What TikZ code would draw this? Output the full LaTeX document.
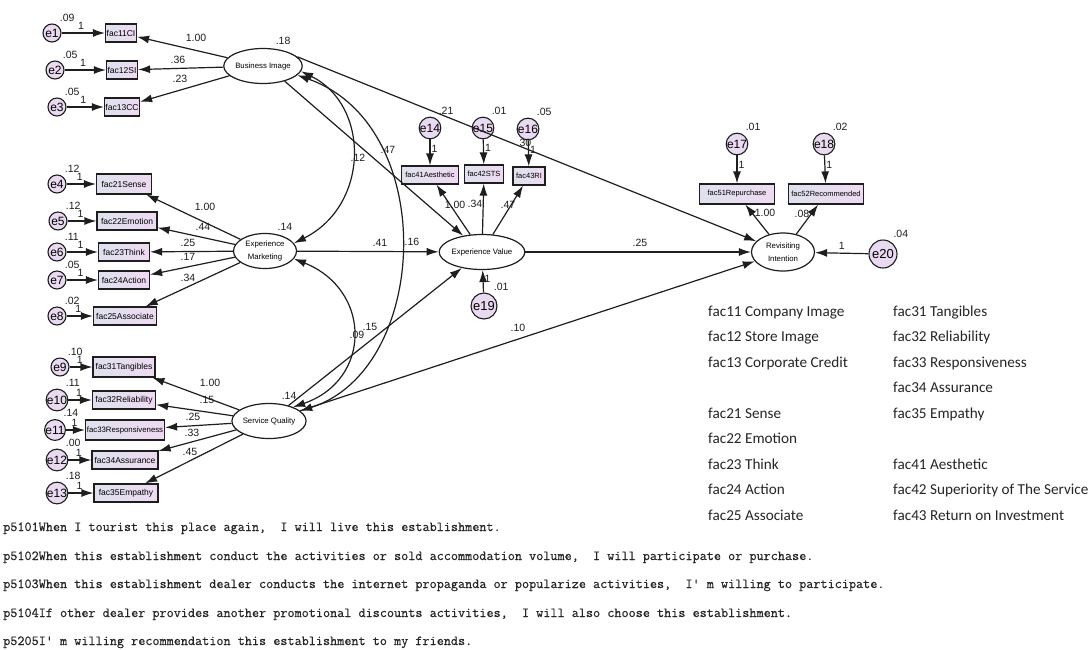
\documentclass[tikz,border=0pt]{standalone}
\usepackage{fontspec}
\setsansfont{Liberation Sans}
\newfontfamily\legfont{Carlito}
\newfontfamily\itemfont[FakeBold=0.5]{Latin Modern Mono}
\usetikzlibrary{positioning,shapes.geometric,arrows.meta}
\definecolor{boxl}{RGB}{222,225,237}
\definecolor{boxr}{RGB}{238,218,242}
\definecolor{errfill}{RGB}{233,217,241}
\definecolor{ink}{RGB}{30,30,30}
\tikzset{
  latent/.style = {ellipse, draw=ink, line width=1.2pt, fill=white, minimum width=63pt,
    minimum height=35pt, inner sep=0pt, align=center, font=\sffamily\fontsize{7.8}{13}\selectfont},
  obs/.style = {rectangle, draw=ink, line width=1.2pt, left color=boxl, right color=boxr,
    minimum height=18pt, inner sep=1pt, font=\sffamily\fontsize{8.5}{9}\selectfont},
  err/.style = {circle, draw=ink, line width=1.1pt, fill=errfill, minimum size=18pt, inner sep=0pt,
    font=\sffamily\fontsize{12}{12}\selectfont, label={[vlab]58:#1}},
  wt/.style = {font=\sffamily\fontsize{10.5}{11}\selectfont, inner sep=1pt, text=ink},
  vlab/.style = {wt, label distance=3pt},
  reg/.style = {draw=ink, line width=1.2pt, -{Latex[length=12pt,width=8pt]}},
  cov/.style = {draw=ink, line width=1.2pt, {Latex[length=12pt,width=8pt]}-{Latex[length=12pt,width=8pt]}},
  leg/.style = {anchor=base west, inner sep=0pt, text=black!85, font=\legfont\fontsize{15.2}{18}\selectfont},
  item/.style = {anchor=base west, inner sep=0pt, text=black!85, font=\itemfont\fontsize{13.8}{16}\selectfont},
}
\begin{document}
\begin{tikzpicture}[x=1pt,y=-1pt]
\path[use as bounding box, fill=white] (0,0) rectangle (1091,649);

% latent variables
\node[latent, label={[vlab]60:.18}] (bi) at (263,66) {Business Image};
\node[latent, label={[vlab]60:.14}] (em) at (265,251) {Experience\\Marketing};
\node[latent, label={[vlab]60:.14}] (sq) at (269,421) {Service Quality};
\node[latent, minimum width=64pt] (ev) at (482,252) {Experience Value};
\node[latent, minimum height=38pt] (ri) at (783,252) {Revisiting\\Intention};

% business image
\node[obs, minimum width=31pt] (f11) at (121,33) {fac11CI};
\node[obs, minimum width=31pt] (f12) at (122,70) {fac12SI};
\node[obs, minimum width=31pt] (f13) at (122,107) {fac13CC};
\node[err=.09] (e1) at (52,33) {e1};
\node[err=.05] (e2) at (55,70) {e2};
\node[err=.05] (e3) at (57,107) {e3};

% experience marketing
\node[obs, minimum width=55pt, minimum height=20pt] (f21) at (124,184) {fac21Sense};
\node[obs, minimum width=60pt] (f22) at (127,221) {fac22Emotion};
\node[obs, minimum width=51pt] (f23) at (124,252) {fac23Think};
\node[obs, minimum width=51pt] (f24) at (124,280) {fac24Action};
\node[obs, minimum width=63pt] (f25) at (125,316) {fac25Associate};
\node[err=.12] (e4) at (57,184) {e4};
\node[err=.12] (e5) at (58,221) {e5};
\node[err=.11] (e6) at (57,252) {e6};
\node[err=.05] (e7) at (57,280) {e7};
\node[err=.02] (e8) at (57,316) {e8};

% service quality
\node[obs, minimum width=62pt, minimum height=20pt] (f31) at (124,367) {fac31Tangibles};
\node[obs, minimum width=63pt] (f32) at (124,400) {fac32Reliability};
\node[obs, minimum width=79pt, minimum height=20pt, font=\sffamily\fontsize{7.8}{9}\selectfont] (f33) at (125,430) {fac33Responsiveness};
\node[obs, minimum width=66pt] (f34) at (125,460) {fac34Assurance};
\node[obs, minimum width=64pt] (f35) at (126,493) {fac35Empathy};
\node[err=.10] (e9) at (60,367) {e9};
\node[err=.11] (e10) at (57,400) {e10};
\node[err=.14] (e11) at (55,430) {e11};
\node[err=.00] (e12) at (57,460) {e12};
\node[err=.18] (e13) at (57,493) {e13};

% experience value
\node[obs, minimum width=57pt, font=\sffamily\fontsize{7.5}{9}\selectfont] (f41) at (430,175) {fac41Aesthetic};
\node[obs, minimum width=39pt, font=\sffamily\fontsize{7.5}{9}\selectfont] (f42) at (484,174) {fac42STS};
\node[obs, minimum width=32pt, font=\sffamily\fontsize{7.5}{9}\selectfont] (f43) at (529,176) {fac43RI};
\node[err=.21, minimum size=20pt] (e14) at (430,128) {e14};
\node[err=.01, minimum size=20pt] (e15) at (483,128) {e15};
\node[err=.05, minimum size=20pt] (e16) at (528,129) {e16};
\node[err=.01, minimum size=26pt, font=\sffamily\fontsize{13}{13}\selectfont] (e19) at (484,306) {e19};

% revisiting intention
\node[obs, minimum width=75pt, minimum height=20pt, font=\sffamily\fontsize{7.5}{9}\selectfont] (f51) at (737,194) {fac51Repurchase};
\node[obs, minimum width=75pt, minimum height=20pt, font=\sffamily\fontsize{7.5}{9}\selectfont] (f52) at (826,194) {fac52Recommended};
\node[err=.01, minimum size=20pt] (e17) at (737,144) {e17};
\node[err=.02, minimum size=20pt] (e18) at (824,144) {e18};
\node[err=.04, minimum size=28pt, font=\sffamily\fontsize{13}{13}\selectfont] (e20) at (883,254) {e20};

% error terms
\foreach \e/\f in {e1/f11,e2/f12,e3/f13,e4/f21,e5/f22,e6/f23,e7/f24,e8/f25,
                   e9/f31,e10/f32,e11/f33,e12/f34,e13/f35}
  \draw[reg] (\e) -- node[wt, above=1.5pt, pos=.45] {1} (\f);
\foreach \e/\f in {e14/f41,e15/f42,e16/f43,e17/f51,e18/f52}
  \draw[reg] (\e) -- node[wt, right, pos=.35] {1} (\f);
\draw[reg] (e19) -- node[wt, right, pos=.6] {1} (ev);
\draw[reg] (e20) -- node[wt, above=2pt] {1} (ri);

% loadings
\draw[reg] (bi) -- (f11) node[wt] at (196,38) {1.00};
\draw[reg] (bi) -- (f12) node[wt] at (178,60) {.36};
\draw[reg] (bi) -- (f13) node[wt] at (180,79) {.23};
\draw[reg] (em) -- (f21) node[wt] at (205,207) {1.00};
\draw[reg] (em) -- (f22) node[wt] at (203,227) {.44};
\draw[reg] (em) -- (f23) node[wt] at (188,243) {.25};
\draw[reg] (em) -- (f24) node[wt] at (188,257) {.17};
\draw[reg] (em) -- (f25) node[wt] at (188,278) {.34};
\draw[reg] (sq) -- (f31) node[wt] at (210,383) {1.00};
\draw[reg] (sq) -- (f32) node[wt] at (207,400) {.15};
\draw[reg] (sq) -- (f33) node[wt] at (193,417) {.25};
\draw[reg] (sq) -- (f34) node[wt] at (192,433) {.33};
\draw[reg] (sq) -- (f35) node[wt] at (190,452) {.45};
\draw[reg] (ev) -- (f41) node[wt] at (455,205) {1.00};
\draw[reg] (ev) -- (f42) node[wt] at (475,204) {.34};
\draw[reg] (ev) -- (f43) node[wt] at (508,205) {.47};
\draw[reg] (ri) -- (f51) node[wt] at (765,213) {1.00};
\draw[reg] (ri) -- (f52) node[wt] at (802,214) {.08};

% structural paths
\draw[reg] (bi.15) -- (ri) node[wt] at (524,143) {.30};
\draw[reg] (bi.-35) -- (ev) node[wt] at (412,242) {.16};
\draw[reg] (em) -- (ev) node[wt] at (380,243) {.41};
\draw[reg] (sq) -- (ev) node[wt] at (370,327) {.15};
\draw[reg] (ev) -- (ri) node[wt] at (640,243) {.25};
\draw[reg] (sq) -- (ri) node[wt] at (518,328) {.10};

% covariances
\draw[cov] (bi.-8) .. controls (370,105) and (370,205) .. (em.15) node[wt] at (358,158) {.12};
\draw[cov] (em.-15) .. controls (372,290) and (372,380) .. (sq.30) node[wt] at (357,335) {.09};
\draw[cov] (bi.-15) .. controls (440,125) and (430,370) .. (sq.18) node[wt] at (388,150) {.47};

% legend
\foreach \r/\t in {0/fac11 Company Image,1/fac12 Store Image,2/fac13 Corporate Credit,
                   4/fac21 Sense,5/fac22 Emotion,6/fac23 Think,7/fac24 Action,8/fac25 Associate}
  \node[leg] (la\r) at (708,{316+25.5*\r}) {\t};
\foreach \r/\t in {0/fac31 Tangibles,1/fac32 Reliability,2/fac33 Responsiveness,3/fac34 Assurance,
                   4/fac35 Empathy,6/fac41 Aesthetic,7/fac42 Superiority of The Service,8/fac43 Return on Investment}
  \node[leg] (lb\r) at (893,{316+25.5*\r}) {\t};

% questionnaire items
\node[item] (q1) at (3,531) {p5101When I tourist this place again,\ \ I will live this establishment.};
\node[item] (q2) at (3,560) {p5102When this establishment conduct the activities or sold accommodation volume,\ \ I will participate or purchase.};
\node[item] (q3) at (3,588) {p5103When this establishment dealer conducts the internet propaganda or popularize activities,\ \ I'\ m willing to participate.};
\node[item] (q4) at (3,617) {p5104If other dealer provides another promotional discounts activities,\ \ I will also choose this establishment.};
\node[item] (q5) at (3,645) {p5205I'\ m willing recommendation this establishment to my friends.};
\end{tikzpicture}
\end{document}
